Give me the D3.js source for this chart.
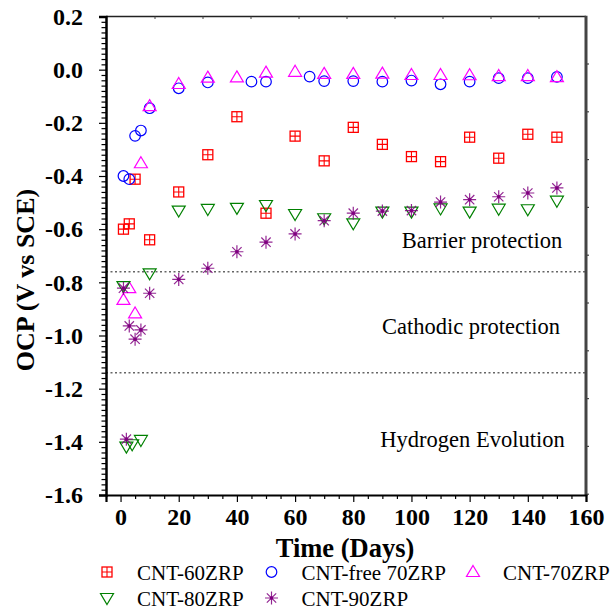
<!DOCTYPE html>
<html>
<head>
<meta charset="utf-8">
<script src="https://cdn.jsdelivr.net/npm/d3@7/dist/d3.min.js"></script>
<style>
  html, body { margin: 0; padding: 0; background: #fff; }
  svg { display: block; }
</style>
</head>
<body>
<svg id="chart" width="613" height="611"></svg>
<script>
// Open-circuit potential of zinc-rich primers over immersion time
const xTickValues = [0, 20, 40, 60, 80, 100, 120, 140, 160];
const yTickValues = [0.2, 0.0, -0.2, -0.4, -0.6, -0.8, -1.0, -1.2, -1.4, -1.6];

const seriesNames = ["CNT-60ZRP", "CNT-free 70ZRP", "CNT-70ZRP", "CNT-80ZRP", "CNT-90ZRP"];

const days60 = [1, 3, 5, 10, 20, 30, 40, 50, 60, 70, 80, 90, 100, 110, 120, 130, 140, 150];
const ocp60 = [-0.600, -0.580, -0.412, -0.640, -0.460, -0.320, -0.177, -0.540, -0.250, -0.343, -0.217, -0.281, -0.327, -0.346, -0.254, -0.333, -0.243, -0.254];

const daysFree70 = [1, 3, 5, 7, 10, 20, 30, 45, 50, 65, 70, 80, 90, 100, 110, 120, 130, 140, 150];
const ocpFree70 = [-0.400, -0.412, -0.249, -0.229, -0.145, -0.070, -0.048, -0.045, -0.045, -0.026, -0.043, -0.043, -0.045, -0.041, -0.055, -0.045, -0.032, -0.032, -0.027];

const days70 = [1, 3, 5, 7, 10, 20, 30, 40, 50, 60, 70, 80, 90, 100, 110, 120, 130, 140, 150];
const ocp70 = [-0.866, -0.822, -0.917, -0.352, -0.137, -0.054, -0.030, -0.029, -0.011, -0.008, -0.016, -0.016, -0.015, -0.020, -0.020, -0.021, -0.024, -0.024, -0.028];

const days80 = [1, 2, 4, 7, 10, 20, 30, 40, 50, 60, 70, 80, 90, 100, 110, 120, 130, 140, 150];
const ocp80 = [-0.814, -1.418, -1.409, -1.393, -0.766, -0.530, -0.524, -0.520, -0.509, -0.543, -0.559, -0.578, -0.534, -0.534, -0.522, -0.534, -0.523, -0.525, -0.493];

const days90 = [1, 2, 3, 5, 7, 10, 20, 30, 40, 50, 60, 70, 80, 90, 100, 110, 120, 130, 140, 150];
const ocp90 = [-0.822, -1.390, -0.964, -1.014, -0.979, -0.841, -0.789, -0.747, -0.685, -0.649, -0.618, -0.568, -0.540, -0.532, -0.530, -0.498, -0.489, -0.478, -0.464, -0.445];

// Potential thresholds separating the protection regimes
const regimeLimits = [-0.76, -1.14];
const regimeLabels = ["Barrier protection", "Cathodic protection", "Hydrogen Evolution"];
const regimeLabelValues = [-0.67, -0.995, -1.42];

const series = [
  { name: seriesNames[0], days: days60, ocp: ocp60, color: "#ff0000", shape: "boxcross" },
  { name: seriesNames[1], days: daysFree70, ocp: ocpFree70, color: "#0000ff", shape: "circle" },
  { name: seriesNames[2], days: days70, ocp: ocp70, color: "#ff00ff", shape: "up" },
  { name: seriesNames[3], days: days80, ocp: ocp80, color: "#008000", shape: "down" },
  { name: seriesNames[4], days: days90, ocp: ocp90, color: "#800080", shape: "star" }
];

const margin = { left: 106, right: 27, top: 16.5, bottom: 116 };
const W = 613, H = 611;
const svg = d3.select("#chart");

const x = d3.scaleLinear().domain([-5, 160]).range([margin.left, W - margin.right]);
const y = d3.scaleLinear().domain([-1.6, 0.2]).range([H - margin.bottom, margin.top]);

const serif = "'Liberation Serif', 'Times New Roman', serif";

// Marker drawing
function drawMarker(g, shape, color) {
  if (shape === "boxcross") {
    g.append("rect").attr("x", -5).attr("y", -5).attr("width", 10).attr("height", 10)
      .attr("fill", "none").attr("stroke", color).attr("stroke-width", 1.3);
    g.append("path").attr("d", "M-5,0H5M0,-5V5").attr("stroke", color).attr("stroke-width", 1.1);
  } else if (shape === "circle") {
    g.append("circle").attr("r", 5.3).attr("fill", "none").attr("stroke", color).attr("stroke-width", 1.2);
  } else if (shape === "up") {
    g.append("path").attr("d", "M0,-6.5L6.5,4.5L-6.5,4.5Z").attr("fill", "none")
      .attr("stroke", color).attr("stroke-width", 1.2);
  } else if (shape === "down") {
    g.append("path").attr("d", "M0,6.5L6.5,-4.5L-6.5,-4.5Z").attr("fill", "none")
      .attr("stroke", color).attr("stroke-width", 1.2);
  } else if (shape === "star") {
    const r = 6.5, d = r * 0.72;
    g.append("path").attr("d", `M0,${-r}V${r}M${-r},0H${r}M${-d},${-d}L${d},${d}M${-d},${d}L${d},${-d}`)
      .attr("stroke", color).attr("stroke-width", 1.2).attr("stroke-opacity", 0.85);
    g.append("circle").attr("r", 1.8).attr("fill", color);
  }
}

// Regime boundaries
svg.selectAll("line.limit").data(regimeLimits).enter().append("line")
  .attr("class", "limit")
  .attr("x1", margin.left).attr("x2", W - margin.right)
  .attr("y1", d => y(d)).attr("y2", d => y(d))
  .attr("stroke", "#666").attr("stroke-width", 1.5).attr("stroke-dasharray", "2,2.5");

// Regime labels
const regimeX = [482, 471, 472.5];
svg.selectAll("text.regime").data(regimeLabels).enter().append("text")
  .attr("class", "regime")
  .attr("x", (d, i) => regimeX[i]).attr("y", (d, i) => y(regimeLabelValues[i]))
  .attr("text-anchor", "middle")
  .attr("font-family", serif).attr("font-size", 22.5).attr("fill", "#000")
  .text(d => d);

// Data points
series.forEach(s => {
  const pts = s.days.map((d, i) => ({ d, v: s.ocp[i] }));
  svg.append("g").selectAll("g").data(pts).enter().append("g")
    .attr("transform", p => `translate(${x(p.d)},${y(p.v)})`)
    .each(function () { drawMarker(d3.select(this), s.shape, s.color); });
});

// Frame: top and right edges
svg.append("line").attr("x1", margin.left).attr("x2", W - margin.right)
  .attr("y1", margin.top).attr("y2", margin.top).attr("stroke", "#222").attr("stroke-width", 1.5);
svg.append("line").attr("x1", W - margin.right).attr("x2", W - margin.right)
  .attr("y1", margin.top - 0.75).attr("y2", H - margin.bottom + 1).attr("stroke", "#444").attr("stroke-width", 3);
// small ticks on top and right edges
d3.range(0, 9).forEach(k => {
  const tx = 155 + 48 * k;
  svg.append("line").attr("x1", tx).attr("x2", tx).attr("y1", margin.top).attr("y2", margin.top + 2.5)
    .attr("stroke", "#444").attr("stroke-width", 1);
});
d3.range(0, 10).forEach(k => {
  const ty = 64 + 47.8 * k;
  svg.append("line").attr("x1", W - margin.right).attr("x2", W - margin.right + 3).attr("y1", ty).attr("y2", ty)
    .attr("stroke", "#444").attr("stroke-width", 1.2);
});

// Bottom axis
const xMinor = d3.range(-5, 161, 5).filter(v => v % 20 !== 0);
const gxMinor = svg.append("g").attr("transform", `translate(0,${H - margin.bottom})`)
  .call(d3.axisBottom(x).tickValues(xMinor).tickSize(4).tickFormat(""));
const gx = svg.append("g").attr("transform", `translate(0,${H - margin.bottom})`)
  .call(d3.axisBottom(x).tickValues(xTickValues).tickSize(7).tickPadding(6).tickFormat(d3.format("d")));
gx.select(".domain").attr("stroke", "#000").attr("stroke-width", 2.2);
gxMinor.select(".domain").remove();
[gx, gxMinor].forEach(g => g.selectAll(".tick line").attr("stroke", "#000").attr("stroke-width", 1.2));
gx.selectAll(".tick text").attr("font-family", serif).attr("font-weight", "bold")
  .attr("font-size", 24).attr("fill", "#000");

// Left axis
const yMinor = d3.range(-80, 11, 1).map(v => v / 50).filter(v => Math.abs(Math.round(v * 5) - v * 5) > 1e-6);
const gyMinor = svg.append("g").attr("transform", `translate(${margin.left},0)`)
  .call(d3.axisLeft(y).tickValues(yMinor).tickSize(4.5).tickFormat(""));
const gy = svg.append("g").attr("transform", `translate(${margin.left},0)`)
  .call(d3.axisLeft(y).tickValues(yTickValues).tickSize(7).tickPadding(16)
    .tickFormat(d => (Math.abs(d) < 1e-9 ? 0 : d).toFixed(1)));
gy.select(".domain").attr("stroke", "#000").attr("stroke-width", 2.5);
gyMinor.select(".domain").remove();
[gy, gyMinor].forEach(g => g.selectAll(".tick line").attr("stroke", "#000").attr("stroke-width", 1.2));
gy.selectAll(".tick text").attr("font-family", serif).attr("font-weight", "bold")
  .attr("font-size", 24).attr("fill", "#000");

// Axis titles
svg.append("text").attr("x", 345).attr("y", 557).attr("text-anchor", "middle")
  .attr("font-family", serif).attr("font-weight", "bold").attr("font-size", 26.5)
  .text("Time (Days)");
svg.append("text").attr("transform", "translate(34,280) rotate(-90)").attr("text-anchor", "middle")
  .attr("font-family", serif).attr("font-weight", "bold").attr("font-size", 26)
  .text("OCP (V vs SCE)");

// Legend
const legendPos = [[107, 572], [271.5, 572], [473, 572], [107, 598], [271.5, 598]];
series.forEach((s, i) => {
  const [lx, ly] = legendPos[i];
  const g = svg.append("g").attr("transform", `translate(${lx},${ly})`);
  drawMarker(g, s.shape, s.color);
  g.append("text").attr("x", 30).attr("y", 7.5)
    .attr("font-family", serif).attr("font-size", 21).attr("fill", "#000")
    .text(s.name);
});
</script>
</body>
</html>
